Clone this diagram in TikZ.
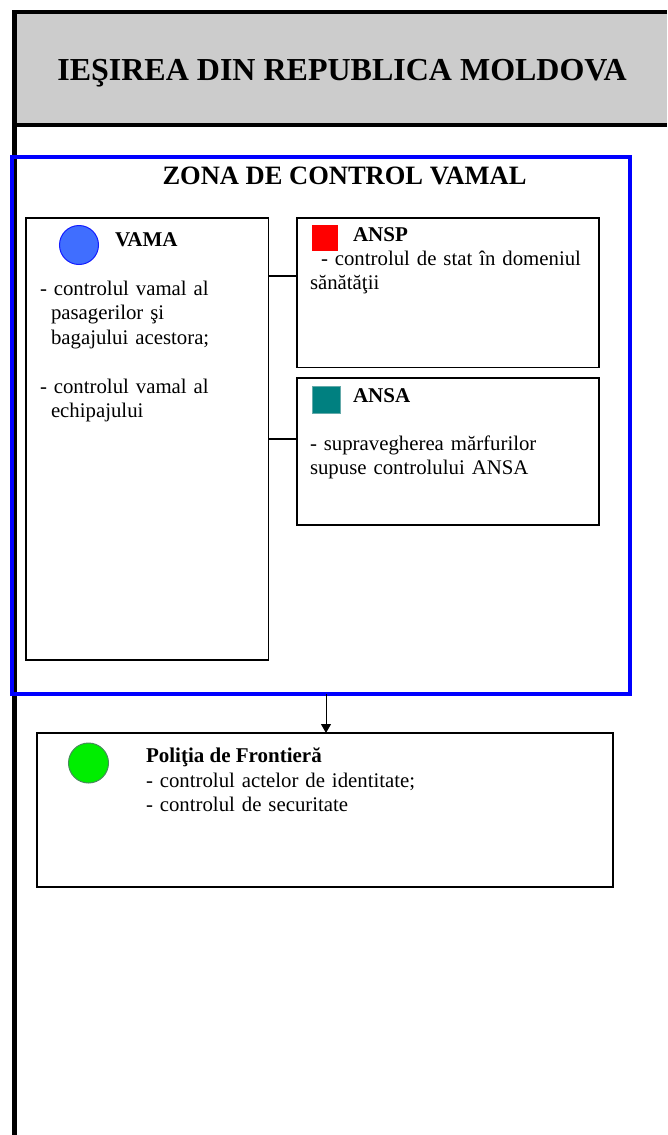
\documentclass[tikz,border=0pt]{standalone}
\usepackage{fontspec}
\setmainfont{Liberation Serif}
\usetikzlibrary{arrows.meta}
\definecolor{hdrgray}{RGB}{204,204,204}
\definecolor{zoneblue}{RGB}{0,0,255}
\definecolor{vamafill}{RGB}{64,110,255}
\definecolor{vamaedge}{RGB}{20,30,255}
\definecolor{anspred}{RGB}{255,0,0}
\definecolor{ansateal}{RGB}{0,128,128}
\definecolor{ansaedge}{RGB}{100,170,170}
\definecolor{pfgreen}{RGB}{0,238,0}
\definecolor{pfedge}{RGB}{70,140,90}
\tikzset{
  box/.style={draw=black, line width=1.8pt, inner sep=0pt, outer sep=0pt, anchor=north west},
  body/.style={inner sep=0pt, outer sep=0pt, anchor=base west, font=\fontsize{20.8}{24.5}\selectfont, align=left},
  bodybold/.style={inner sep=0pt, outer sep=0pt, anchor=base west, font=\fontsize{21}{24.5}\selectfont\bfseries},
  conn/.style={draw=black, line width=1.8pt},
  arr/.style={draw=black, line width=1pt, -{Triangle[length=9pt,width=10pt]}}
}
\begin{document}
\begin{tikzpicture}[x=1pt,y=-1pt]
\useasboundingbox (0,0) rectangle (667,1135);
% header
\fill[hdrgray] (14,12) rectangle (667,125);
\draw[line width=4.5pt] (667,12) -- (14.5,12) -- (14.5,1135);
\draw[line width=4pt] (14.5,125) -- (667,125);
\node[inner sep=0pt, anchor=base, font=\fontsize{32}{36}\selectfont\bfseries] (title) at (342,80) {IEŞIREA DIN REPUBLICA MOLDOVA};
% control zone
\node[draw=zoneblue, line width=3.5pt, inner sep=0pt, outer sep=0pt, anchor=north west,
      minimum width=618.25pt, minimum height=537pt] (zone) at (11.75,157) {};
\node[inner sep=0pt, anchor=base, font=\fontsize{26.5}{30}\selectfont\bfseries] (zonatitle) at (344.5,184) {ZONA DE CONTROL VAMAL};
% VAMA
\node[box, minimum width=242.5pt, minimum height=442pt] (vama) at (26,218) {};
\node[circle, fill=vamafill, draw=vamaedge, line width=1pt, minimum size=39pt, inner sep=0pt] (vamaicon) at (79,245) {};
\node[bodybold] (vamalabel) at (115,246) {VAMA};
\node[body, text width=220pt] (vamatext) at (40,295) {- controlul vamal al\\
\hspace*{11pt}pasagerilor şi\\
\hspace*{11pt}bagajului acestora;\\[24.5pt]
- controlul vamal al\\
\hspace*{11pt}echipajului};
% ANSP
\node[box, minimum width=302pt, minimum height=149.5pt] (ansp) at (297,218) {};
\node[fill=anspred, minimum size=26pt, inner sep=0pt] (anspicon) at (325,238) {};
\node[bodybold] (ansplabel) at (353,241) {ANSP};
\node[body, text width=285pt] (ansptext) at (310,265) {\hspace*{11pt}- controlul de stat în domeniul\\sănătăţii};
% ANSA
\node[box, minimum width=302pt, minimum height=147pt] (ansa) at (297,378) {};
\node[fill=ansateal, draw=ansaedge, line width=0.8pt, minimum width=28pt, minimum height=27pt, inner sep=0pt] (ansaicon) at (326.5,400) {};
\node[bodybold] (ansalabel) at (353,402) {ANSA};
\node[body, text width=285pt] (ansatext) at (310,450) {- supravegherea mărfurilor\\supuse controlului ANSA};
% connectors
\coordinate (j1) at (0,276);
\coordinate (j2) at (0,439);
\draw[conn] (vama.east |- j1) -- (ansp.west |- j1);
\draw[conn] (vama.east |- j2) -- (ansa.west |- j2);
% Politia de Frontiera
\node[box, line width=2pt, minimum width=576pt, minimum height=154pt] (pf) at (37,733) {};
\node[circle, fill=pfgreen, draw=pfedge, line width=1pt, minimum size=40pt, inner sep=0pt] (pficon) at (88.5,763) {};
\node[bodybold] (pflabel) at (146,762) {Poliţia de Frontieră};
\node[body, text width=450pt, font=\fontsize{20.8}{24}\selectfont] (pftext) at (146,787) {- controlul actelor de identitate;\\- controlul de securitate};
% arrow
\coordinate (ax) at (326,0);
\draw[arr] (zone.south -| ax) -- (pf.north -| ax);
\end{tikzpicture}
\end{document}
